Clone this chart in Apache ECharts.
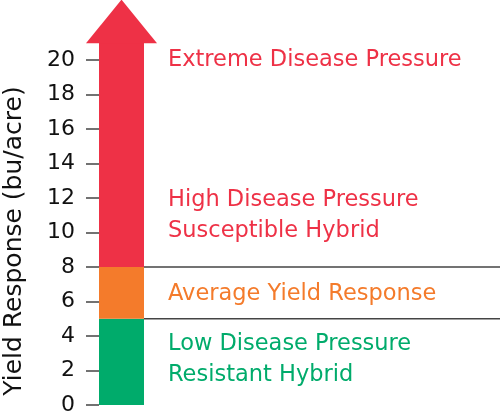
<!DOCTYPE html>
<html>
<head>
<meta charset="utf-8">
<script src="https://cdn.jsdelivr.net/npm/echarts@6/dist/echarts.min.js"></script>
<style>
  html, body { margin: 0; padding: 0; background: #fff; }
  #main { width: 500px; height: 418px; }
</style>
</head>
<body>
<div id="main"></div>
<script>
// bands of the yield response bar: [from, to]
var bandRanges = [[0, 5], [5, 8], [8, 21]];
var bandColors = ['#00AB6B', '#F47B2B', '#EE3146'];
var arrowTip = 23.5;
var dividers = [5, 8];

// text labels: value they centre on, lines, colour
var labelValues = [20, 10.95, 6.4, 2.6];
var labelTexts = [
    'Extreme Disease Pressure',
    'High Disease Pressure\nSusceptible Hybrid',
    'Average Yield Response',
    'Low Disease Pressure\nResistant Hybrid'
];
var labelColors = ['#EE3146', '#EE3146', '#F47B2B', '#00AB6B'];

var tickLabels = ['0', '2', '4', '6', '8', '10', '12', '14', '16', '18', '20'];

var myChart = echarts.init(document.getElementById('main'));

var BAR_W = 45, HEAD = 13;
var FONT = 'DejaVu Sans';

var option = {
    animation: false,
    graphic: [{
        type: 'text',
        x: 14,
        y: 241,
        rotation: Math.PI / 2,
        style: {
            text: 'Yield Response (bu/acre)',
            fontFamily: FONT,
            fontSize: 25,
            fill: '#111',
            align: 'center',
            verticalAlign: 'middle'
        }
    }],
    grid: { left: 99, right: 0, top: 60, bottom: 13, outerBoundsMode: 'none' },
    xAxis: { type: 'value', min: 0, max: 1, show: false },
    yAxis: {
        type: 'value',
        min: 0,
        max: 20,
        interval: 2,
        axisLine: { show: false },
        axisTick: { show: true, length: 13, lineStyle: { color: '#444', width: 1.5 } },
        splitLine: { show: false },
        axisLabel: {
            margin: 24,
            fontFamily: FONT,
            fontSize: 22,
            color: '#111',
            formatter: function (v) { return tickLabels[v / 2]; }
        }
    },
    series: [
        {
            type: 'custom',
            clip: false,
            data: bandRanges.map(function (r, i) { return [r[0], r[1], i]; }),
            renderItem: function (params, api) {
                var i = api.value(2);
                var lo = api.coord([0, api.value(0)]);
                var hi = api.coord([0, api.value(1)]);
                var x0 = params.coordSys.x;
                var children = [{
                    type: 'rect',
                    shape: { x: x0, y: hi[1], width: BAR_W, height: lo[1] - hi[1] },
                    style: { fill: bandColors[i] }
                }];
                if (i === bandRanges.length - 1) {
                    var tip = api.coord([0, arrowTip]);
                    children.push({
                        type: 'polygon',
                        shape: { points: [
                            [x0 - HEAD, hi[1] + 0.5],
                            [x0 + BAR_W / 2, tip[1]],
                            [x0 + BAR_W + HEAD, hi[1] + 0.5]
                        ] },
                        style: { fill: bandColors[i] }
                    });
                }
                return { type: 'group', children: children };
            }
        },
        {
            type: 'custom',
            clip: false,
            data: dividers,
            renderItem: function (params, api) {
                var p = api.coord([0, api.value(0)]);
                var cs = params.coordSys;
                return {
                    type: 'line',
                    shape: { x1: cs.x + BAR_W, y1: p[1], x2: cs.x + cs.width, y2: p[1] },
                    style: { stroke: '#444', lineWidth: 1.5 }
                };
            }
        },
        {
            type: 'custom',
            clip: false,
            data: labelValues.map(function (v, i) { return [v, i]; }),
            renderItem: function (params, api) {
                var i = api.value(1);
                var p = api.coord([0, api.value(0)]);
                return {
                    type: 'text',
                    x: params.coordSys.x + BAR_W + 24,
                    y: p[1],
                    style: {
                        text: labelTexts[i],
                        fill: labelColors[i],
                        fontFamily: FONT,
                        fontSize: 22.5,
                        lineHeight: 31,
                        align: 'left',
                        verticalAlign: 'middle'
                    }
                };
            }
        }
    ]
};
myChart.setOption(option);
</script>
</body>
</html>
